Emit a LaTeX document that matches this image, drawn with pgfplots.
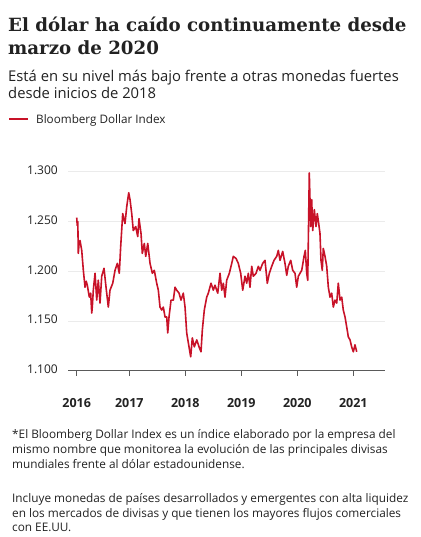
\documentclass[border=0pt]{standalone}
\usepackage{fontspec}
\usepackage{pgfplots}
\pgfplotsset{compat=1.18}
\setmainfont{Open Sans}
\newfontfamily\titlefont{DejaVu Serif}
\definecolor{bbcred}{RGB}{200,18,40}
\definecolor{txt}{RGB}{34,34,34}
\definecolor{gridc}{RGB}{235,235,235}
\definecolor{axc}{RGB}{90,90,90}
\begin{document}
\begin{tikzpicture}
\begin{scope}[x=1pt,y=1pt]
\path[use as bounding box,fill=white] (0,0) rectangle (420,-537);
% title
\node[anchor=base west,inner sep=0,text=txt] at (8,-32) {\titlefont\bfseries\fontsize{18.2}{22}\selectfont El dólar ha caído continuamente desde};
\node[anchor=base west,inner sep=0,text=txt] at (8,-55) {\titlefont\bfseries\fontsize{18.2}{22}\selectfont marzo de 2020};
% subtitle
\node[anchor=base west,inner sep=0,text=txt] at (8,-81.5) {\fontsize{14.8}{17}\selectfont Está en su nivel más bajo frente a otras monedas fuertes};
\node[anchor=base west,inner sep=0,text=txt] at (8,-99) {\fontsize{14.8}{17}\selectfont desde inicios de 2018};
% legend
\draw[bbcred,line width=2.6] (9,-119) -- (28,-119);
\node[anchor=base west,inner sep=0,text=txt] at (36,-124) {\fontsize{11.7}{14}\selectfont Bloomberg Dollar Index};
% footnotes
\begin{scope}[every node/.style={anchor=base west,inner sep=0,text=txt,font=\fontsize{11.8}{15}\selectfont}]
\node at (12,-438) {*El Bloomberg Dollar Index es un índice elaborado por la empresa del};
\node at (12,-453) {mismo nombre que monitorea la evolución de las principales divisas};
\node at (12,-468) {mundiales frente al dólar estadounidense.};
\node at (12,-502.5) {Incluye monedas de países desarrollados y emergentes con alta liquidez};
\node at (12,-517) {en los mercados de divisas y que tienen los mayores flujos comerciales};
\node at (12,-531.5) {con EE.UU.};
\end{scope}
\end{scope}
\begin{axis}[
  at={(68pt,-370.7pt)}, anchor=south west,
  scale only axis, width=317pt, height=203.8pt,
  xmin=2015.905, xmax=2021.566, ymin=1.1, ymax=1.305,
  axis x line*=bottom, axis y line*=left,
  x axis line style={draw=axc,line width=0.8pt,-},
  y axis line style={draw=none},
  xtick={2016.061,2017,2018,2019,2020,2021},
  xticklabels={2016,2017,2018,2019,2020,2021},
  ytick={1.1,1.15,1.2,1.25,1.3},
  yticklabels={1.100,1.150,1.200,1.250,1.300},
  ymajorgrids, major grid style={draw=gridc,line width=0.8pt},
  tick align=outside, major tick length=5pt,
  xtick style={draw=axc,line width=0.8pt},
  ytick style={draw=none},
  xticklabel style={font=\bfseries\fontsize{12.5}{14}\selectfont,text=txt,anchor=base,inner sep=0pt,yshift=-32pt},
  yticklabel style={font=\fontsize{12}{14}\selectfont,text=txt,anchor=east,inner sep=0pt,xshift=-5pt},
  typeset ticklabels with strut=false,
  clip=false,
]
\addplot[bbcred,line width=1.6pt,line join=round] coordinates {
(2016.061,1.254)(2016.070,1.246)(2016.080,1.250)(2016.089,1.218)(2016.100,1.226)(2016.120,1.231)(2016.150,1.221)(2016.179,1.201)(2016.209,1.184)(2016.230,1.190)(2016.250,1.186)(2016.286,1.174)(2016.310,1.178)(2016.329,1.158)(2016.340,1.165)(2016.357,1.181)(2016.388,1.198)(2016.418,1.171)(2016.446,1.191)(2016.477,1.168)(2016.507,1.195)(2016.548,1.203)(2016.584,1.184)(2016.625,1.164)(2016.655,1.181)(2016.704,1.188)(2016.745,1.201)(2016.786,1.208)(2016.821,1.198)(2016.846,1.225)(2016.882,1.258)(2016.923,1.248)(2016.954,1.265)(2016.989,1.279)(2017.013,1.272)(2017.043,1.258)(2017.071,1.241)(2017.114,1.245)(2017.150,1.235)(2017.173,1.253)(2017.209,1.238)(2017.232,1.218)(2017.268,1.228)(2017.293,1.215)(2017.329,1.228)(2017.370,1.208)(2017.411,1.198)(2017.446,1.201)(2017.489,1.188)(2017.518,1.181)(2017.548,1.164)(2017.579,1.161)(2017.607,1.164)(2017.638,1.154)(2017.668,1.154)(2017.686,1.138)(2017.709,1.154)(2017.745,1.171)(2017.786,1.171)(2017.816,1.184)(2017.846,1.181)(2017.888,1.178)(2017.923,1.171)(2017.964,1.178)(2017.995,1.164)(2018.025,1.138)(2018.066,1.124)(2018.096,1.114)(2018.125,1.133)(2018.161,1.124)(2018.204,1.131)(2018.245,1.124)(2018.280,1.119)(2018.304,1.141)(2018.339,1.161)(2018.382,1.174)(2018.411,1.178)(2018.459,1.188)(2018.500,1.181)(2018.530,1.186)(2018.579,1.178)(2018.620,1.198)(2018.650,1.181)(2018.679,1.188)(2018.709,1.174)(2018.739,1.191)(2018.786,1.198)(2018.829,1.208)(2018.857,1.215)(2018.905,1.213)(2018.946,1.208)(2018.989,1.198)(2019.025,1.181)(2019.066,1.195)(2019.096,1.188)(2019.125,1.198)(2019.155,1.184)(2019.186,1.205)(2019.214,1.195)(2019.263,1.198)(2019.304,1.205)(2019.334,1.201)(2019.382,1.208)(2019.423,1.211)(2019.464,1.188)(2019.500,1.198)(2019.543,1.205)(2019.584,1.211)(2019.632,1.215)(2019.661,1.221)(2019.691,1.211)(2019.739,1.220)(2019.780,1.208)(2019.811,1.196)(2019.839,1.205)(2019.882,1.211)(2019.918,1.201)(2019.959,1.198)(2019.989,1.184)(2020.018,1.195)(2020.048,1.198)(2020.079,1.201)(2020.120,1.215)(2020.143,1.221)(2020.168,1.198)(2020.186,1.191)(2020.196,1.228)(2020.214,1.299)(2020.239,1.245)(2020.257,1.272)(2020.275,1.241)(2020.304,1.262)(2020.334,1.245)(2020.357,1.258)(2020.382,1.248)(2020.405,1.238)(2020.423,1.211)(2020.446,1.201)(2020.464,1.223)(2020.495,1.215)(2020.525,1.205)(2020.554,1.184)(2020.584,1.174)(2020.614,1.178)(2020.643,1.164)(2020.673,1.171)(2020.704,1.168)(2020.732,1.188)(2020.763,1.171)(2020.793,1.174)(2020.821,1.161)(2020.852,1.154)(2020.882,1.144)(2020.911,1.134)(2020.941,1.131)(2020.971,1.124)(2021.000,1.119)(2021.030,1.126)(2021.061,1.119)
};
\end{axis}
\end{tikzpicture}
\end{document}
